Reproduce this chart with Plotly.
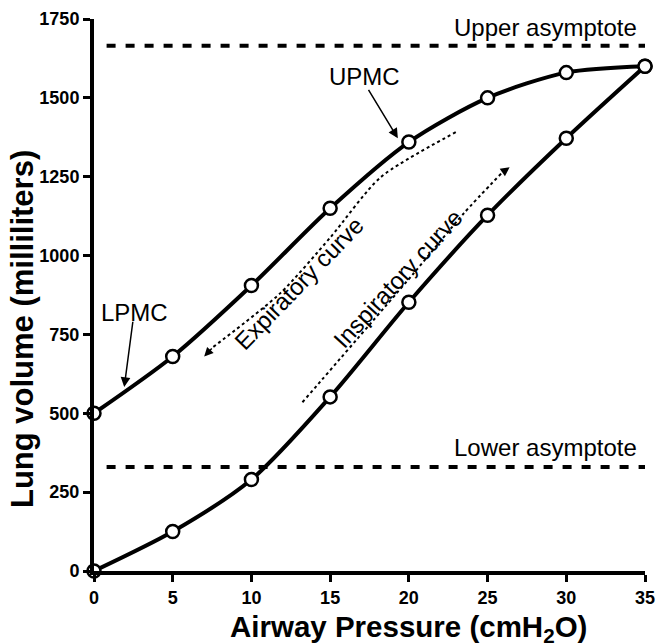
import plotly.graph_objects as go

# ---- data ----
pressure = [0, 5, 10, 15, 20, 25, 30, 35]
expiratory_volume = [500, 680, 905, 1150, 1360, 1500, 1580, 1600]
inspiratory_volume = [0, 125, 290, 552, 852, 1128, 1372, 1600]
upper_asymptote = 1665
lower_asymptote = 330
asymptote_x = [0.8, 35]

x_ticks = [0, 5, 10, 15, 20, 25, 30, 35]
y_ticks = [0, 250, 500, 750, 1000, 1250, 1500, 1750]

# guide (dotted) paths
exp_guide_x = [22.98, 18.2, 15.02, 11.84, 7.57]
exp_guide_y = [1391, 1248, 1058, 881, 710]
exp_tip = (7.0, 680)
insp_guide_x = [13.24, 20.31, 23.49, 25.9]
insp_guide_y = [535, 944, 1134, 1262]
insp_tip = (26.4, 1280)

FONT = "Arial, Liberation Sans, sans-serif"

fig = go.Figure()

# asymptotes
for val in (upper_asymptote, lower_asymptote):
    fig.add_trace(go.Scatter(
        x=asymptote_x, y=[val, val], mode="lines",
        line=dict(color="black", width=4, dash="9px,10px"),
        hoverinfo="skip", showlegend=False))

# dotted guides
fig.add_trace(go.Scatter(
    x=exp_guide_x, y=exp_guide_y, mode="lines",
    line=dict(color="black", width=2, dash="dot", shape="spline", smoothing=0.7),
    showlegend=False, hoverinfo="skip"))
fig.add_trace(go.Scatter(
    x=insp_guide_x, y=insp_guide_y, mode="lines",
    line=dict(color="black", width=2, dash="dot", shape="spline", smoothing=0.7),
    showlegend=False, hoverinfo="skip"))

# curves
for vols in (expiratory_volume, inspiratory_volume):
    fig.add_trace(go.Scatter(
        x=pressure, y=vols, mode="lines+markers",
        line=dict(color="black", width=4, shape="spline", smoothing=0.8),
        marker=dict(symbol="circle", size=13, color="white",
                    line=dict(color="black", width=2.5)),
        cliponaxis=False, showlegend=False))

ann = []
txt = dict(family=FONT, size=24, color="black")
ann.append(dict(x=34.65, y=1722, text="Upper asymptote", showarrow=False,
                xanchor="right", yanchor="middle", font=txt))
ann.append(dict(x=34.6, y=393, text="Lower asymptote", showarrow=False,
                xanchor="right", yanchor="middle", font=txt))
ann.append(dict(x=17.2, y=1568, text="UPMC", showarrow=False,
                xanchor="center", yanchor="middle", font=txt))
ann.append(dict(x=2.6, y=821, text="LPMC", showarrow=False,
                xanchor="center", yanchor="middle", font=txt))
ann.append(dict(x=13.0, y=913, text="Expiratory curve", showarrow=False,
                textangle=-46, xanchor="center", yanchor="middle", font=txt))
ann.append(dict(x=19.3, y=928, text="Inspiratory curve", showarrow=False,
                textangle=-47.5, xanchor="center", yanchor="middle", font=txt))

# arrows
def arrow(tail, tip, width=1.5, size=1.3):
    return dict(x=tip[0], y=tip[1], ax=tail[0], ay=tail[1],
                xref="x", yref="y", axref="x", ayref="y",
                text="", showarrow=True, arrowhead=2, arrowsize=size,
                arrowwidth=width, arrowcolor="black", standoff=0)

ann.append(arrow((17.38, 1530), (19.3, 1372)))
ann.append(arrow((2.48, 795), (1.92, 583)))
ann.append(arrow((exp_guide_x[-1], exp_guide_y[-1]), exp_tip, width=1.5, size=1.2))
ann.append(arrow((insp_guide_x[-1], insp_guide_y[-1]), insp_tip, width=1.5, size=1.2))

# axis titles
ann.append(dict(x=0.57, y=-0.105, xref="paper", yref="paper",
                text="Airway Pressure (cmH<sub>2</sub>O)", showarrow=False,
                xanchor="center", yanchor="middle",
                font=dict(family=FONT, size=29.5, color="black", weight="bold")))
ann.append(dict(x=-0.131, y=0.438, xref="paper", yref="paper",
                text="Lung volume (milliliters)", showarrow=False, textangle=-90,
                xanchor="center", yanchor="middle",
                font=dict(family=FONT, size=31, color="black", weight="bold")))

axis_common = dict(
    showline=True, linecolor="black", linewidth=4,
    ticks="outside", ticklen=7, tickwidth=3, tickcolor="black",
    showgrid=False, zeroline=False, automargin=False,
    tickfont=dict(family=FONT, size=18, color="black", weight="bold"))

fig.update_layout(
    width=656, height=644,
    margin=dict(l=94, r=11, t=19, b=73, autoexpand=False),
    paper_bgcolor="white", plot_bgcolor="white",
    annotations=ann,
    font=dict(family=FONT, color="black"),
    xaxis=dict(range=[0, 35], tickvals=x_ticks, ticktext=[str(v) for v in x_ticks],
               **axis_common),
    yaxis=dict(range=[0, 1750], tickvals=y_ticks, ticktext=[str(v) for v in y_ticks],
               **axis_common),
)

fig.write_html(
    "out.html",
    config={"displayModeBar": False},
    post_script="document.body.style.margin='0';document.body.style.overflow='hidden';",
)
